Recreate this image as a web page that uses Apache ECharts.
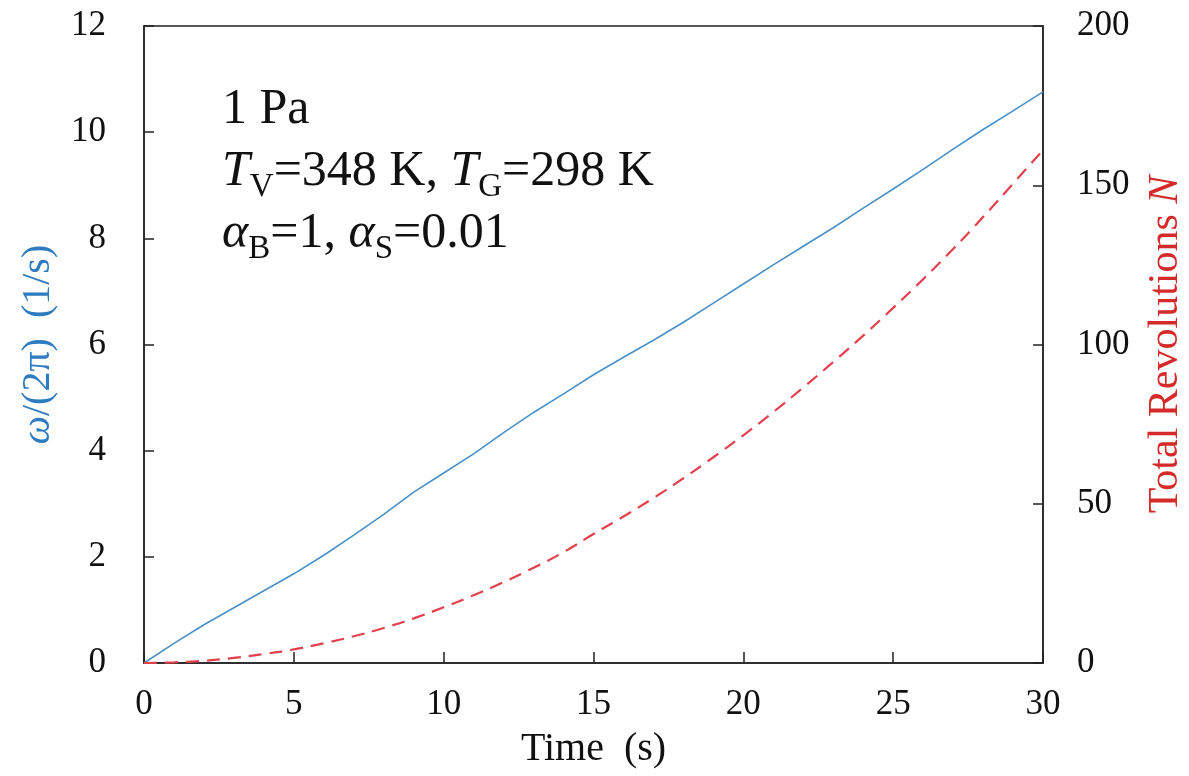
<!DOCTYPE html>
<html>
<head>
<meta charset="utf-8">
<script src="https://cdn.jsdelivr.net/npm/echarts@6/dist/echarts.min.js"></script>
<style>
  html, body { margin: 0; padding: 0; background: #fff; }
  #main { width: 1189px; height: 776px; }
</style>
</head>
<body>
<div id="main"></div>
<script>
// time (s)
let timeData = [0,1,2,3,4,5,6,7,8,9,10,11,12,13,14,15,16,17,18,19,20,21,22,23,24,25,26,27,28,29,30];
// omega/(2 pi), 1/s  (left axis)
let omegaData = [0,0.37,0.72,1.04,1.36,1.68,2.03,2.41,2.8,3.22,3.58,3.94,4.34,4.72,5.07,5.43,5.76,6.08,6.42,6.78,7.14,7.5,7.85,8.2,8.57,8.93,9.3,9.68,10.05,10.4,10.76];
// total revolutions N (right axis)
let revData = [0,0.2,0.7,1.6,2.8,4.3,6.2,8.4,11,14,17.5,21.3,25.4,29.9,34.8,40.5,46,51.8,58,64.6,71.5,78.8,86.5,94.5,102.8,111.5,120.5,130,140,150.5,161];

let font = '"Liberation Serif", "DejaVu Serif", serif';

let omegaLine = [];
let revLine = [];
for (let x = 0; x < timeData.length; x++) {
    omegaLine.push([timeData[x], omegaData[x]]);
    revLine.push([timeData[x], revData[x]]);
}

let myChart = echarts.init(document.getElementById('main'));

let option = {
    animation: false,
    backgroundColor: '#fff',
    grid: {
        left: 144,
        right: 146,
        top: 26,
        bottom: 113,
        outerBoundsMode: 'none',
        show: true,
        borderColor: '#222',
        borderWidth: 1.5
    },
    xAxis: {
        type: 'value',
        min: 0,
        max: 30,
        interval: 5,
        name: 'Time  (s)',
        nameLocation: 'middle',
        nameGap: 66,
        nameTextStyle: { fontFamily: font, fontSize: 40, color: '#111' },
        axisLine: { lineStyle: { color: '#222', width: 1.5 } },
        axisTick: { inside: true, length: 11, lineStyle: { color: '#222', width: 1.5 } },
        axisLabel: { margin: 24, fontFamily: font, fontSize: 35, color: '#111' },
        splitLine: { show: false }
    },
    yAxis: [
        {
            type: 'value',
            min: 0,
            max: 12,
            interval: 2,
            name: '{i|ω}/(2π)  (1/s)',
            nameLocation: 'middle',
            nameGap: 86,
            nameRotate: 90,
            nameTextStyle: {
                fontFamily: font, fontSize: 40, color: '#2e7bbf',
                rich: {
                    i: { fontFamily: font, fontSize: 40, fontStyle: 'italic', color: '#2e7bbf' }
                }
            },
            axisLine: { show: true, lineStyle: { color: '#222', width: 1.5 } },
            axisTick: { show: true, inside: true, length: 10, lineStyle: { color: '#222', width: 1.5 } },
            axisLabel: { margin: 38, fontFamily: font, fontSize: 35, color: '#111' },
            splitLine: { show: false }
        },
        {
            type: 'value',
            min: 0,
            max: 200,
            interval: 50,
            position: 'right',
            name: 'Total Revolutions {i|N}',
            nameLocation: 'middle',
            nameGap: 102,
            nameRotate: 90,
            nameTextStyle: {
                fontFamily: font, fontSize: 42, color: '#d42a2a',
                rich: {
                    i: { fontFamily: font, fontSize: 42, fontStyle: 'italic', color: '#d42a2a' }
                }
            },
            axisLine: { show: true, lineStyle: { color: '#222', width: 1.5 } },
            axisTick: { show: true, inside: true, length: 10, lineStyle: { color: '#222', width: 1.5 } },
            axisLabel: { margin: 34, fontFamily: font, fontSize: 35, color: '#111' },
            splitLine: { show: false }
        }
    ],
    graphic: [
        {
            type: 'text',
            left: 222,
            top: 85,
            style: {
                text: '{m|1 Pa}\n{i|T}{s|V}{m|=348 K, }{i|T}{s|G}{m|=298 K}\n{i|α}{s|B}{m|=1, }{i|α}{s|S}{m|=0.01}',
                fontFamily: font,
                fill: '#111',
                rich: {
                    m: { fontFamily: font, fontSize: 50, lineHeight: 62, verticalAlign: 'top', fill: '#111' },
                    i: { fontFamily: font, fontSize: 50, lineHeight: 62, fontStyle: 'italic', verticalAlign: 'top', fill: '#111' },
                    s: { fontFamily: font, fontSize: 33, lineHeight: 33, padding: [24, 0, 0, 0], verticalAlign: 'top', fill: '#111' }
                }
            }
        }
    ],
    series: [
        {
            name: 'omega',
            type: 'line',
            yAxisIndex: 0,
            showSymbol: false,
            smooth: false,
            lineStyle: { color: '#4a90c8', width: 1.6 },
            data: omegaLine
        },
        {
            name: 'N',
            type: 'line',
            yAxisIndex: 1,
            showSymbol: false,
            smooth: true,
            lineStyle: { color: '#e2404c', width: 2.2, type: [13, 8] },
            data: revLine
        }
    ]
};

myChart.setOption(option);
</script>
</body>
</html>
